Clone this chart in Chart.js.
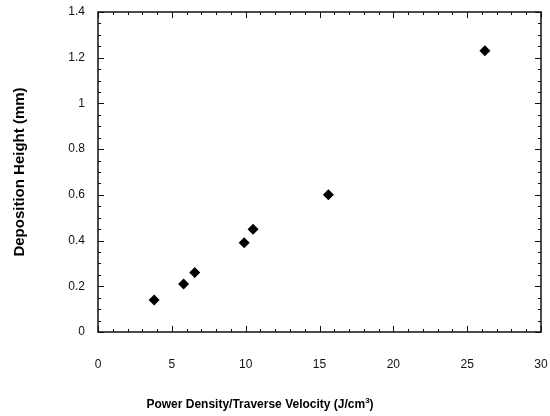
<!DOCTYPE html>
<html>
<head>
<meta charset="utf-8">
<script src="https://cdn.jsdelivr.net/npm/chart.js@4"></script>
<style>
  html, body { margin: 0; padding: 0; background: #fff; }
  #wrap { width: 550px; height: 416px; }
</style>
</head>
<body>
<div id="wrap"><canvas id="chart"></canvas></div>
<script>
// values
const energyDensity = [3.8, 5.8, 6.55, 9.9, 10.5, 15.6, 26.2];
const depositionHeight = [0.14, 0.21, 0.26, 0.39, 0.45, 0.60, 1.23];

const xTitleParts = ["Power Density/Traverse Velocity (J/cm", "3", ")"];
const yTitle = "Deposition Height (mm)";

const points = energyDensity.map((x, i) => ({ x: x, y: depositionHeight[i] }));

// frame plus inward major/minor ticks on all four sides
const frameTicks = {
    id: "frameTicks",
    afterDraw(chart) {
        const ctx = chart.ctx;
        const a = chart.chartArea;
        const xs = chart.scales.x;
        const ys = chart.scales.y;
        ctx.save();
        ctx.strokeStyle = "#111";
        ctx.lineWidth = 1;

        for (let v = xs.min; v <= xs.max + 1e-9; v += 1) {
            const px = Math.round(xs.getPixelForValue(v)) + 0.5;
            const len = (Math.abs(v % 5) < 1e-9) ? 6 : 3;
            ctx.beginPath();
            ctx.moveTo(px, a.bottom); ctx.lineTo(px, a.bottom - len);
            ctx.moveTo(px, a.top); ctx.lineTo(px, a.top + len);
            ctx.stroke();
        }
        for (let i = 0; i <= 28; i++) {
            const v = i * 0.05;
            const py = Math.round(ys.getPixelForValue(v)) + 0.5;
            const len = (i % 4 === 0) ? 6 : 3;
            ctx.beginPath();
            ctx.moveTo(a.left, py); ctx.lineTo(a.left + len, py);
            ctx.moveTo(a.right, py); ctx.lineTo(a.right - len, py);
            ctx.stroke();
        }

        ctx.lineWidth = 1.5;
        ctx.strokeRect(a.left, a.top, a.right - a.left, a.bottom - a.top);

        // x axis title with a real superscript
        const big = "bold 12px 'Liberation Sans', Arial";
        const small = "bold 8px 'Liberation Sans', Arial";
        ctx.fillStyle = "#000";
        ctx.textBaseline = "alphabetic";
        ctx.textAlign = "left";
        ctx.font = big;
        const w0 = ctx.measureText(xTitleParts[0]).width;
        const w2 = ctx.measureText(xTitleParts[2]).width;
        ctx.font = small;
        const w1 = ctx.measureText(xTitleParts[1]).width;
        let x = 260 - (w0 + w1 + w2) / 2;
        const base = 408;
        ctx.font = big;
        ctx.fillText(xTitleParts[0], x, base);
        x += w0;
        ctx.font = small;
        ctx.fillText(xTitleParts[1], x, base - 5);
        x += w1;
        ctx.font = big;
        ctx.fillText(xTitleParts[2], x, base);
        ctx.restore();
    }
};

new Chart(document.getElementById("chart"), {
    type: "scatter",
    data: {
        datasets: [{
            data: points,
            pointStyle: "rectRot",
            pointRadius: 5.5,
            pointHoverRadius: 5.5,
            backgroundColor: "#000",
            borderColor: "#000",
            borderWidth: 0
        }]
    },
    options: {
        responsive: true,
        maintainAspectRatio: false,
        animation: false,
        layout: { padding: { left: 0, top: 12, right: 9, bottom: 0 } },
        plugins: {
            legend: { display: false },
            tooltip: { enabled: false }
        },
        scales: {
            x: {
                type: "linear",
                min: 0,
                max: 30,
                border: { display: false },
                grid: { display: false, drawTicks: false },
                ticks: {
                    stepSize: 5,
                    padding: 25,
                    color: "#111",
                    font: { family: "Liberation Sans, Arial", size: 12 }
                },
                afterFit(scale) {
                    scale.height = 84;
                    scale.paddingLeft = 0;
                    scale.paddingRight = 0;
                }
            },
            y: {
                type: "linear",
                min: 0,
                max: 1.4,
                border: { display: false },
                grid: { display: false, drawTicks: false },
                ticks: {
                    stepSize: 0.2,
                    padding: 13,
                    color: "#111",
                    font: { family: "Liberation Sans, Arial", size: 12 },
                    callback: v => String(Math.round(v * 10) / 10)
                },
                title: {
                    display: true,
                    text: yTitle,
                    color: "#000",
                    padding: { top: 11, bottom: 0 },
                    font: { family: "Liberation Sans, Arial", size: 15, weight: "bold" }
                },
                afterFit(scale) {
                    scale.width = 98;
                    scale.paddingTop = 0;
                    scale.paddingBottom = 0;
                }
            }
        }
    },
    plugins: [frameTicks]
});
</script>
</body>
</html>
